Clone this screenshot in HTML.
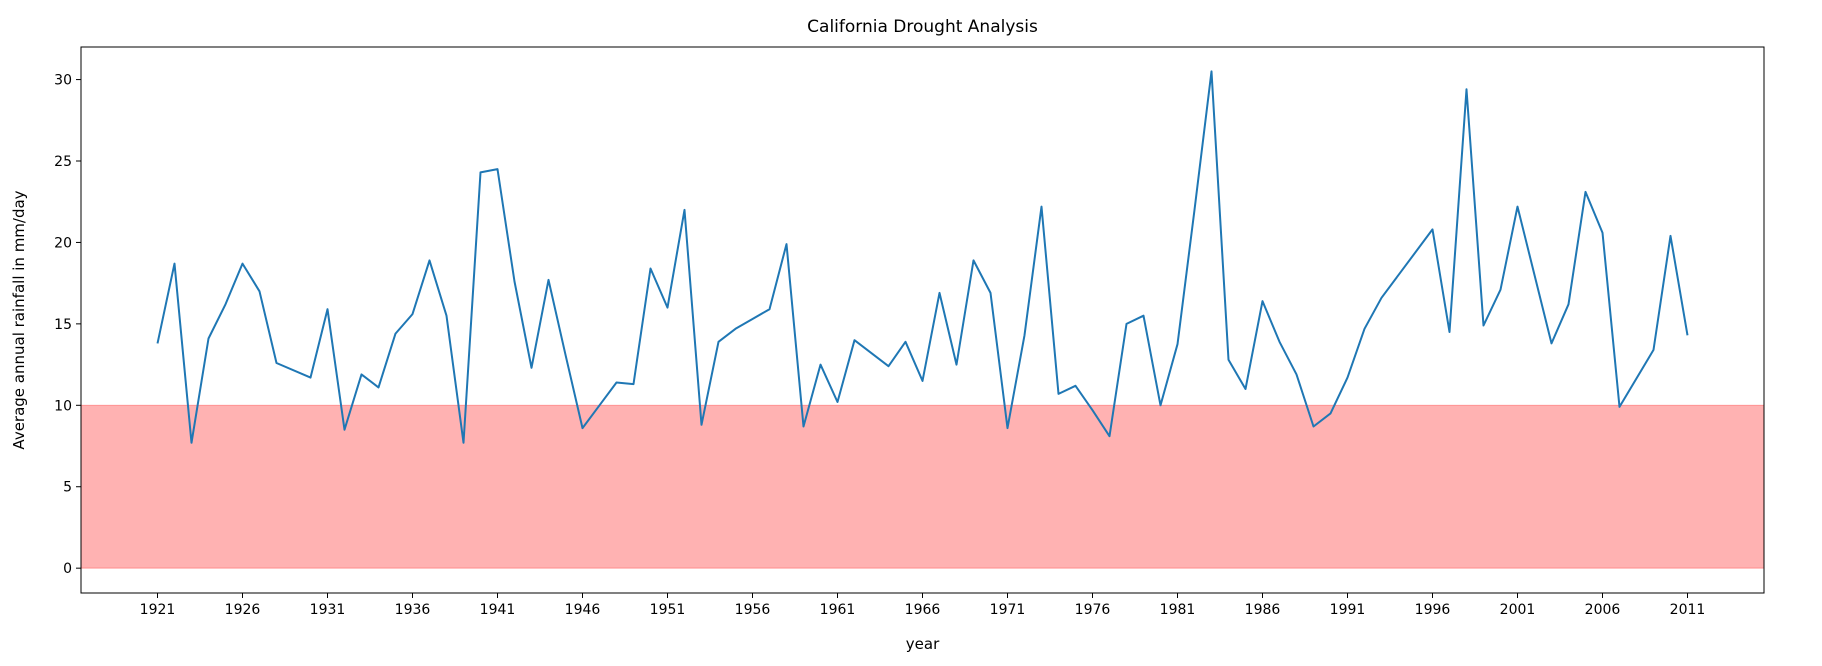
<!DOCTYPE html>
<html><head><meta charset="utf-8"><style>
html,body{margin:0;padding:0;background:#fff;}
svg{display:block;font-family:"DejaVu Sans","Liberation Sans",sans-serif;}
</style></head><body>
<svg id="chart" width="1822" height="666"></svg>
<script>
const years=[1921,1922,1923,1924,1925,1926,1927,1928,1930,1931,1932,1933,1934,1935,1936,1937,1938,1939,1940,1941,1942,1943,1944,1945,1946,1947,1948,1949,1950,1951,1952,1953,1954,1955,1956,1957,1958,1959,1960,1961,1962,1963,1964,1965,1966,1967,1968,1969,1970,1971,1972,1973,1974,1975,1976,1977,1978,1979,1980,1981,1982,1983,1984,1985,1986,1987,1988,1989,1990,1991,1992,1993,1996,1997,1998,1999,2000,2001,2002,2003,2004,2005,2006,2007,2009,2010,2011];
const rainfall=[13.8,18.7,7.7,14.1,16.2,18.7,17.0,12.6,11.7,15.9,8.5,11.9,11.1,14.4,15.6,18.9,15.5,7.7,24.3,24.5,17.6,12.3,17.7,13.1,8.6,10.0,11.4,11.3,18.4,16.0,22.0,8.8,13.9,14.7,15.3,15.9,19.9,8.7,12.5,10.2,14.0,13.2,12.4,13.9,11.5,16.9,12.5,18.9,16.9,8.6,14.3,22.2,10.7,11.2,9.7,8.1,15.0,15.5,10.0,13.75,22.0,30.5,12.8,11.0,16.4,13.9,11.9,8.7,9.5,11.7,14.7,16.6,20.8,14.5,29.4,14.9,17.1,22.2,18.0,13.8,16.2,23.1,20.6,9.9,13.4,20.4,14.3];
const xTicks=[1921,1926,1931,1936,1941,1946,1951,1956,1961,1966,1971,1976,1981,1986,1991,1996,2001,2006,2011];
const yTicks=[0,5,10,15,20,25,30];
const droughtSpan=[0,10];

const L=81,R=1764,T=47,B=593;
const xMin=1916.5,xMax=2015.5,yMin=-1.525,yMax=32.0;
const sx=v=>L+(v-xMin)/(xMax-xMin)*(R-L);
const sy=v=>B-(v-yMin)/(yMax-yMin)*(B-T);
const NS="http://www.w3.org/2000/svg";
const svg=document.getElementById('chart');
function mk(tag,attrs,parent){const e=document.createElementNS(NS,tag);for(const k in attrs)e.setAttribute(k,attrs[k]);(parent||svg).appendChild(e);return e;}

const span=mk('rect',{x:L,y:sy(droughtSpan[1]),width:R-L,height:sy(droughtSpan[0])-sy(droughtSpan[1]),fill:'rgba(255,0,0,0.3)',stroke:'rgba(255,0,0,0.3)','stroke-width':1});



const pts=years.map((y,i)=>sx(y).toFixed(1)+','+sy(rainfall[i]).toFixed(1)).join(' ');
const line=mk('polyline',{points:pts,fill:'none',stroke:'#1f77b4','stroke-width':2,'stroke-linejoin':'round'});



const frame=mk('rect',{x:L,y:T,width:R-L,height:B-T,fill:'none',stroke:'#000','stroke-width':1});



xTicks.forEach(t=>{
  const g=mk('g',{});
  
  
  mk('line',{x1:sx(t),x2:sx(t),y1:B,y2:B+5,stroke:'#000'},g);
  const tx=mk('text',{x:sx(t),y:B+21,'text-anchor':'middle','font-size':14,fill:'#000'},g);
  tx.textContent=t;
});
yTicks.forEach(t=>{
  const g=mk('g',{});
  
  
  mk('line',{x1:L-5,x2:L,y1:sy(t),y2:sy(t),stroke:'#000'},g);
  const tx=mk('text',{x:L-9,y:sy(t)+5,'text-anchor':'end','font-size':14,fill:'#000'},g);
  tx.textContent=t;
});

const title=mk('text',{x:(L+R)/2,y:32,'text-anchor':'middle','font-size':17,fill:'#000'});
title.textContent='California Drought Analysis';



const xl=mk('text',{x:(L+R)/2,y:649,'text-anchor':'middle','font-size':15,fill:'#000'});
xl.textContent='year';



const yl=mk('text',{x:0,y:0,'text-anchor':'middle','font-size':15,fill:'#000',transform:'translate(24,'+((T+B)/2)+') rotate(-90)'});
yl.textContent='Average annual rainfall in mm/day';


</script>
</body></html>
